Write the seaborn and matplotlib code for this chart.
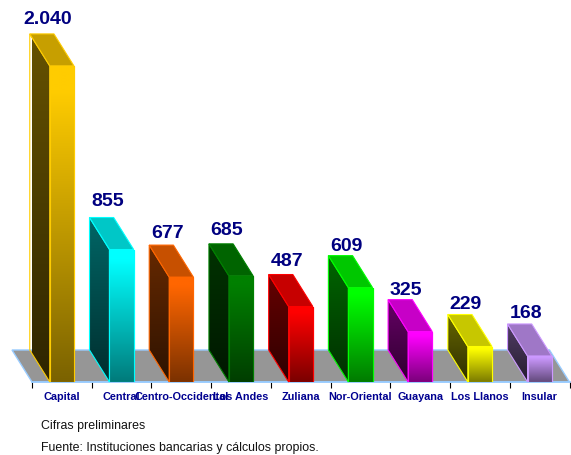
import matplotlib
matplotlib.use("Agg")
import matplotlib.pyplot as plt
import numpy as np
import pandas as pd
import seaborn as sns
from matplotlib.colors import LinearSegmentedColormap, to_rgb
from matplotlib.patches import Polygon

regions = ["Capital", "Central", "Centro-Occidental", "Los Andes", "Zuliana",
           "Nor-Oriental", "Guayana", "Los Llanos", "Insular"]
values = [2040, 855, 677, 685, 487, 609, 325, 229, 168]
value_labels = ["2.040", "855", "677", "685", "487", "609", "325", "229", "168"]
colors = ["#ffcc00", "#00ffff", "#ff6600", "#008000", "#ff0000",
          "#00ff00", "#ff00ff", "#ffff00", "#cc99ff"]
label_gaps = [6, 8, 3, 5, 5, 1, 1, 2, 2]

NAVY = "#000080"
FLOOR = "#969696"
FLOOR_EDGE = "#99ccff"
DEPTH_X = -0.335
DEPTH_Y = 206.6
BAR_WIDTH = 0.405

sns.set_theme(style="white")
plt.rcParams["font.family"] = ["Liberation Sans", "DejaVu Sans"]

W, H = 571, 455
fig = plt.figure(figsize=(W / 100, H / 100), dpi=100, facecolor="white")
ax = fig.add_axes([32 / W, (H - 382) / H, 537.5 / W, 348 / H])

df = pd.DataFrame({"region": regions, "value": values})
sns.barplot(data=df, x="region", y="value", hue="region", palette=colors,
            legend=False, width=BAR_WIDTH, saturation=1, ax=ax, zorder=3)
ax.set_xlim(-0.5, 8.5)
ax.set_ylim(0, 2246)
ax.set_xlabel("")
ax.set_ylabel("")
ax.yaxis.set_visible(False)
for s in ["top", "left", "right"]:
    ax.spines[s].set_visible(False)
ax.spines["bottom"].set_color(FLOOR_EDGE)
ax.spines["bottom"].set_linewidth(1.2)
ax.set_facecolor("none")

ax.set_xticks(range(len(regions)))
ax.set_xticklabels(regions, fontsize=7.8, fontweight="bold", color="#000090")
ax.tick_params(axis="x", which="major", length=0, pad=7, bottom=False)
ax.set_xticks(np.arange(-0.5, 9.0, 1), minor=True)
ax.tick_params(axis="x", which="minor", length=4, width=0.8, color="black",
               bottom=True, direction="out")

x0, x1 = ax.get_xlim()
ax.add_patch(Polygon([(x0, 0), (x1, 0), (x1 + DEPTH_X, DEPTH_Y), (x0 + DEPTH_X, DEPTH_Y)],
                     closed=True, facecolor=FLOOR, edgecolor=FLOOR_EDGE, lw=1,
                     zorder=1, clip_on=False))


def shade(c, f):
    return tuple(np.array(to_rgb(c)) * f)


for i, bar in enumerate(ax.patches[:len(regions)]):
    c = colors[i]
    xl = bar.get_x()
    xr = xl + bar.get_width()
    top = bar.get_height()
    bar.set_edgecolor(c)
    bar.set_linewidth(0.8)
    # front face gradient
    cmap = LinearSegmentedColormap.from_list(
        "f", [(0, c), (0.08, c), (1, shade(c, 0.48))])
    im = ax.imshow(np.linspace(0, 1, 256).reshape(-1, 1), cmap=cmap, aspect="auto",
                   extent=(xl, xr, 0, top), origin="upper", zorder=3.1,
                   interpolation="bilinear")
    im.set_clip_path(bar)
    ax.add_patch(Polygon([(xl, 0), (xr, 0), (xr, top), (xl, top)], closed=True,
                         fill=False, edgecolor=c, lw=0.8, zorder=3.3))
    # left side face gradient
    side = Polygon([(xl, 0), (xl, top), (xl + DEPTH_X, top + DEPTH_Y),
                    (xl + DEPTH_X, DEPTH_Y)], closed=True, facecolor="none",
                   edgecolor="none", zorder=2.9, transform=ax.transData)
    ax.add_patch(side)
    cm2 = LinearSegmentedColormap.from_list(
        "s", [(0, shade(c, 0.4)), (0.1, shade(c, 0.38)), (1, shade(c, 0.18))])
    im2 = ax.imshow(np.linspace(0, 1, 256).reshape(-1, 1), cmap=cm2, aspect="auto",
                    extent=(xl + DEPTH_X, xl, 0, top + DEPTH_Y), origin="upper",
                    zorder=2.95, interpolation="bilinear", clip_on=True)
    im2.set_clip_path(side)
    ax.add_patch(Polygon(side.get_xy(), closed=True, fill=False, edgecolor=c,
                         lw=0.8, zorder=3, clip_on=False))
    # top face
    ax.add_patch(Polygon([(xl, top), (xr, top), (xr + DEPTH_X, top + DEPTH_Y),
                          (xl + DEPTH_X, top + DEPTH_Y)], closed=True,
                         facecolor=shade(c, 0.78), edgecolor=c, lw=0.8, zorder=3,
                         clip_on=False))
    # value label
    ax.annotate(value_labels[i], xy=(i - 0.235, top + DEPTH_Y), xytext=(0, label_gaps[i]),
                textcoords="offset pixels", ha="center", va="bottom",
                fontsize=14, fontweight="bold", color=NAVY, zorder=5,
                annotation_clip=False)

ax.set_xlim(x0, x1)
ax.set_ylim(0, 2246)

fig.text(41 / W, 1 - 425.5 / H, "Cifras preliminares", fontsize=8.9, color="#111111", va="center")
fig.text(41 / W, 1 - 447.5 / H, "Fuente: Instituciones bancarias y cálculos propios.",
         fontsize=8.9, color="#111111", va="center")

fig.savefig("out.png", dpi=100, facecolor="white")
